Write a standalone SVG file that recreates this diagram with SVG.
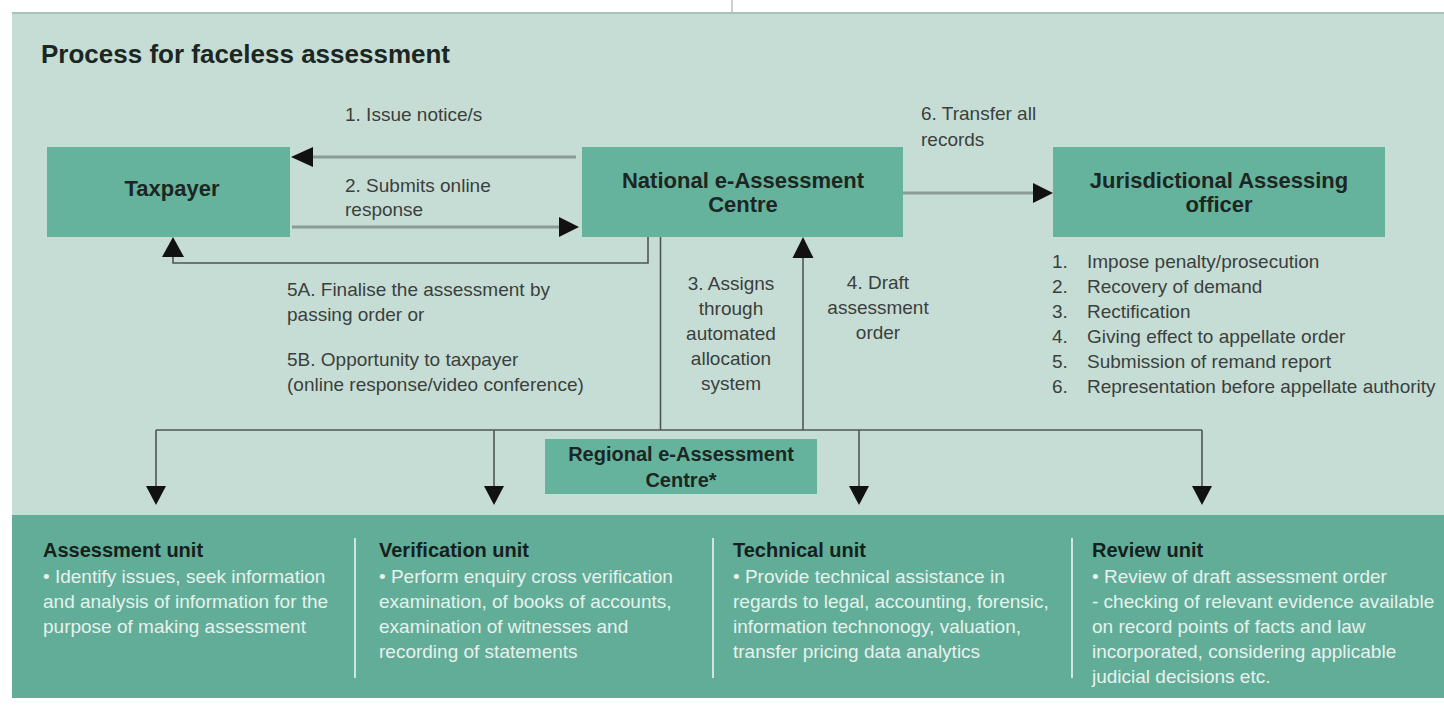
<svg xmlns="http://www.w3.org/2000/svg" width="1444" height="705" viewBox="0 0 1444 705">
  <style>
    .box { fill: #66b39d; }
    .ttl { font-family: "Liberation Sans", Arial, sans-serif; font-weight: bold; fill: #1c2622; }
    .nodet { font-size: 22px; text-anchor: middle; }
    .lbl { font-family: "Liberation Sans", Arial, sans-serif; font-size: 19px; fill: #3b3f3d; }
    .mid { text-anchor: middle; }
    .thick { stroke: #8a9c96; stroke-width: 3; fill: none; }
    .thin { stroke: #4f5552; stroke-width: 1.6; fill: none; }
    .head { fill: #111111; }
    .uh { font-family: "Liberation Sans", Arial, sans-serif; font-weight: bold; font-size: 20px; fill: #16201c; }
    .ub { font-family: "Liberation Sans", Arial, sans-serif; font-size: 19px; fill: #e6f2ee; }
    .div { stroke: #cfe6de; stroke-width: 2; }
  </style>
  <rect x="0" y="0" width="1444" height="705" fill="#ffffff"/>
  <line x1="732" y1="0" x2="732" y2="12" stroke="#9aa09e" stroke-width="1"/>
  <rect x="12" y="12" width="1432" height="504" fill="#c6ddd5"/>
  <line x1="12" y1="13" x2="1444" y2="13" stroke="#aac3ba" stroke-width="2"/>
  <rect x="12" y="515" width="1432" height="183" fill="#62ad97"/>

  <text x="41" y="63" class="ttl" font-size="26">Process for faceless assessment</text>

  <g id="connectors">
    <line class="thick" x1="576" y1="157" x2="312" y2="157"/>
    <polygon class="head" points="291,157 313,147 313,167"/>
    <line class="thick" x1="292" y1="227" x2="560" y2="227"/>
    <polygon class="head" points="579,227 559,217 559,237"/>
    <line class="thick" x1="903" y1="193" x2="1034" y2="193"/>
    <polygon class="head" points="1053,193 1033,183 1033,203"/>
    <polyline class="thin" points="648,237 648,263 173,263 173,256"/>
    <polygon class="head" points="173,237 162,257 184,257"/>
    <line class="thin" x1="660.5" y1="237" x2="660.5" y2="430"/>
    <line class="thin" x1="803" y1="430" x2="803" y2="256"/>
    <polygon class="head" points="803,237 792.5,258 813.5,258"/>
    <line class="thin" x1="156" y1="430" x2="1202" y2="430"/>
    <line class="thin" x1="156" y1="430" x2="156" y2="488"/>
    <line class="thin" x1="494" y1="430" x2="494" y2="488"/>
    <line class="thin" x1="859" y1="430" x2="859" y2="488"/>
    <line class="thin" x1="1202" y1="430" x2="1202" y2="488"/>
    <polygon class="head" points="156,505 146,486 166,486"/>
    <polygon class="head" points="494,505 484,486 504,486"/>
    <polygon class="head" points="859,505 849,486 869,486"/>
    <polygon class="head" points="1202,505 1192,486 1212,486"/>
    <text class="lbl" x="345" y="121">1. Issue notice/s</text>
    <text class="lbl" x="345" y="192">2. Submits online</text>
    <text class="lbl" x="345" y="216">response</text>
    <text class="lbl" x="921" y="120">6. Transfer all</text>
    <text class="lbl" x="921" y="146">records</text>
    <text class="lbl" x="287" y="296">5A. Finalise the assessment by</text>
    <text class="lbl" x="287" y="321">passing order or</text>
    <text class="lbl" x="287" y="366">5B. Opportunity to taxpayer</text>
    <text class="lbl" x="287" y="391">(online response/video conference)</text>
    <text class="lbl mid" x="731" y="290">3. Assigns</text>
    <text class="lbl mid" x="731" y="315">through</text>
    <text class="lbl mid" x="731" y="340">automated</text>
    <text class="lbl mid" x="731" y="365">allocation</text>
    <text class="lbl mid" x="731" y="390">system</text>
    <text class="lbl mid" x="878" y="289">4. Draft</text>
    <text class="lbl mid" x="878" y="314">assessment</text>
    <text class="lbl mid" x="878" y="339">order</text>
  </g>

  <g id="taxpayer">
    <rect class="box" x="47" y="147" width="243" height="90"/>
    <text class="ttl nodet" x="172" y="196">Taxpayer</text>
  </g>
  <g id="national-centre">
    <rect class="box" x="582" y="147" width="321" height="90"/>
    <text class="ttl nodet" x="743" y="188">National e-Assessment</text>
    <text class="ttl nodet" x="743" y="212">Centre</text>
  </g>
  <g id="jurisdictional-officer">
    <rect class="box" x="1053" y="147" width="332" height="90"/>
    <text class="ttl nodet" x="1219" y="188">Jurisdictional Assessing</text>
    <text class="ttl nodet" x="1219" y="212">officer</text>
  </g>
  <g id="jao-list">
    <text class="lbl" x="1052" y="268">1.</text>
    <text class="lbl" x="1087" y="268">Impose penalty/prosecution</text>
    <text class="lbl" x="1052" y="293">2.</text>
    <text class="lbl" x="1087" y="293">Recovery of demand</text>
    <text class="lbl" x="1052" y="318">3.</text>
    <text class="lbl" x="1087" y="318">Rectification</text>
    <text class="lbl" x="1052" y="343">4.</text>
    <text class="lbl" x="1087" y="343">Giving effect to appellate order</text>
    <text class="lbl" x="1052" y="368">5.</text>
    <text class="lbl" x="1087" y="368">Submission of remand report</text>
    <text class="lbl" x="1052" y="393">6.</text>
    <text class="lbl" x="1087" y="393">Representation before appellate authority</text>
  </g>
  <g id="regional-centre">
    <rect class="box" x="545" y="439" width="272" height="55"/>
    <text class="ttl mid" font-size="20" x="681" y="461">Regional e-Assessment</text>
    <text class="ttl mid" font-size="20" x="681" y="487">Centre*</text>
  </g>

  <line class="div" x1="355" y1="538" x2="355" y2="678"/>
  <line class="div" x1="713" y1="538" x2="713" y2="678"/>
  <line class="div" x1="1072" y1="538" x2="1072" y2="678"/>

  <g id="assessment-unit">
    <text class="uh" x="43" y="557">Assessment unit</text>
    <text class="ub" x="43" y="583">• Identify issues, seek information</text>
    <text class="ub" x="43" y="608">and analysis of information for the</text>
    <text class="ub" x="43" y="633">purpose of making assessment</text>
  </g>
  <g id="verification-unit">
    <text class="uh" x="379" y="557">Verification unit</text>
    <text class="ub" x="379" y="583">• Perform enquiry cross verification</text>
    <text class="ub" x="379" y="608">examination, of books of accounts,</text>
    <text class="ub" x="379" y="633">examination of witnesses  and</text>
    <text class="ub" x="379" y="658">recording of statements</text>
  </g>
  <g id="technical-unit">
    <text class="uh" x="733" y="557">Technical unit</text>
    <text class="ub" x="733" y="583">• Provide technical assistance in</text>
    <text class="ub" x="733" y="608">regards to legal, accounting, forensic,</text>
    <text class="ub" x="733" y="633">information technonogy, valuation,</text>
    <text class="ub" x="733" y="658">transfer pricing data analytics</text>
  </g>
  <g id="review-unit">
    <text class="uh" x="1092" y="557">Review unit</text>
    <text class="ub" x="1092" y="583">• Review of draft assessment order</text>
    <text class="ub" x="1092" y="608"> - checking of relevant evidence available</text>
    <text class="ub" x="1092" y="633">on record points of facts and law</text>
    <text class="ub" x="1092" y="658">incorporated, considering applicable</text>
    <text class="ub" x="1092" y="683">judicial decisions etc.</text>
  </g>
</svg>
